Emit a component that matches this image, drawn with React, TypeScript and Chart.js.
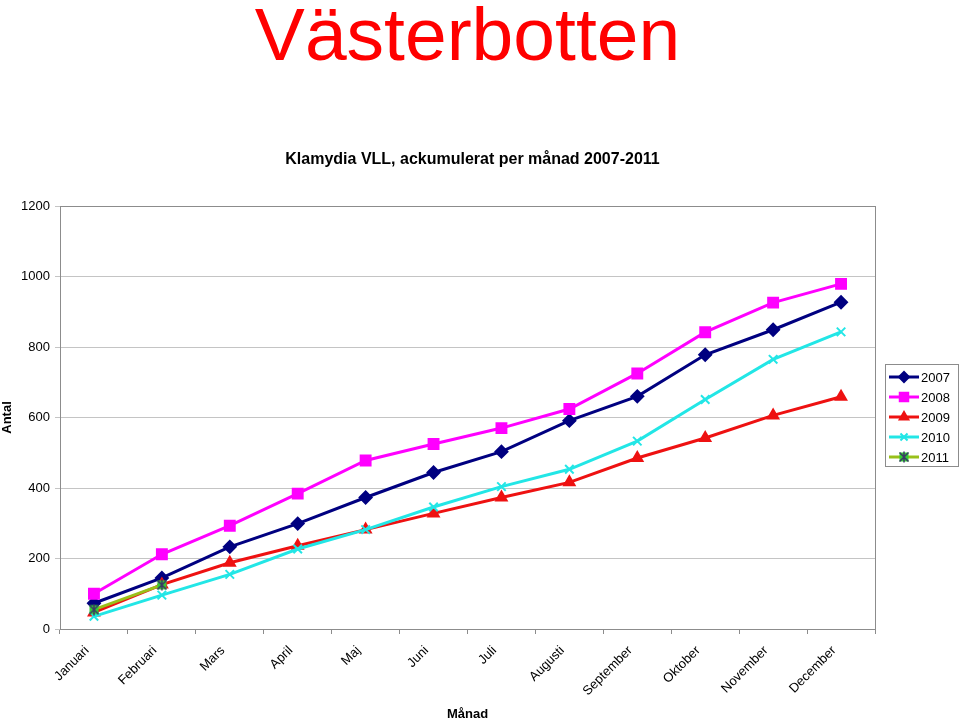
import React, { useEffect, useRef } from 'react';
import { Chart, registerables } from 'chart.js';
import { drawPoint } from 'chart.js/helpers';

Chart.register(...registerables);

const months = ['Januari', 'Februari', 'Mars', 'April', 'Maj', 'Juni', 'Juli', 'Augusti', 'September', 'Oktober', 'November', 'December'];
const years = ['2007', '2008', '2009', '2010', '2011'];
const v2007 = [73, 145, 233, 299, 373, 444, 503, 591, 660, 778, 849, 927];
const v2008 = [100, 212, 293, 384, 478, 525, 570, 624, 725, 842, 926, 979];
const v2009 = [47, 126, 188, 236, 282, 328, 373, 416, 485, 542, 606, 659];
const v2010 = [36, 96, 155, 227, 282, 346, 404, 453, 533, 651, 765, 843];
const v2011 = [55, 125];
const yMin = 0;
const yMax = 1200;
const yStep = 200;

const mainTitle = 'Västerbotten';
const subTitle = 'Klamydia VLL, ackumulerat per månad 2007-2011';
const yTitle = 'Antal';
const xTitle = 'Månad';

const FONT = '"Liberation Sans", Arial, sans-serif';

function makeStarMarker(): HTMLCanvasElement {
  const c = document.createElement('canvas');
  c.width = 12;
  c.height = 12;
  const g = c.getContext('2d')!;
  g.fillStyle = '#33CC33';
  g.fillRect(1.5, 1.5, 9, 9);
  g.strokeStyle = '#3A3A66';
  g.lineWidth = 1.5;
  g.beginPath();
  g.moveTo(1.5, 1.5); g.lineTo(10.5, 10.5);
  g.moveTo(10.5, 1.5); g.lineTo(1.5, 10.5);
  g.moveTo(6, 0.5); g.lineTo(6, 11.5);
  g.stroke();
  return c;
}

export default function App() {
  const ref = useRef<HTMLCanvasElement | null>(null);

  useEffect(() => {
    document.body.style.margin = '0';
    const star = makeStarMarker();
    const series = [
      { label: years[0], data: v2007, color: '#000080', style: 'rectRot', r: 6 },
      { label: years[1], data: v2008, color: '#FF00FF', style: 'rect', r: 7 },
      { label: years[2], data: v2009, color: '#EE1111', style: 'triangle', r: 6 },
      { label: years[3], data: v2010, color: '#22E6E6', style: 'crossRot', r: 6 },
      { label: years[4], data: v2011, color: '#99C01A', style: star as any, r: 6 },
    ];

    const decor = {
      id: 'decor',
      afterDraw(chart: any) {
        const { ctx, chartArea: a } = chart;
        ctx.save();
        // plot border
        ctx.strokeStyle = '#8C8C8C';
        ctx.lineWidth = 1;
        ctx.strokeRect(Math.round(a.left) + 0.5, Math.round(a.top) + 0.5, Math.round(a.right - a.left), Math.round(a.bottom - a.top));
        // titles
        const cx = (a.left + a.right) / 2;
        ctx.fillStyle = '#FF0000';
        ctx.textAlign = 'center';
        ctx.textBaseline = 'alphabetic';
        ctx.font = `75px ${FONT}`;
        ctx.fillText(mainTitle, cx, 60);
        ctx.fillStyle = '#000000';
        ctx.font = `bold 16px ${FONT}`;
        ctx.fillText(subTitle, cx + 5, 164);
        // legend
        const lx = a.right + 10;
        const ly = 364;
        const rowH = 20;
        ctx.strokeStyle = '#8C8C8C';
        ctx.lineWidth = 1;
        ctx.strokeRect(Math.round(lx) + 0.5, ly + 0.5, 73, 102);
        ctx.font = `13px ${FONT}`;
        ctx.textAlign = 'left';
        ctx.textBaseline = 'middle';
        series.forEach((s, i) => {
          const y = ly + 13 + i * rowH;
          ctx.strokeStyle = s.color;
          ctx.lineWidth = 3;
          ctx.beginPath();
          ctx.moveTo(lx + 4, y);
          ctx.lineTo(lx + 34, y);
          ctx.stroke();
          ctx.fillStyle = s.color;
          ctx.strokeStyle = s.color;
          ctx.lineWidth = 2;
          drawPoint(ctx, { pointStyle: s.style, radius: s.r - 1, rotation: 0, borderWidth: 2 } as any, lx + 19, y);
          ctx.fillStyle = '#000000';
          ctx.fillText(s.label, lx + 36, y + 1);
        });
        ctx.restore();
      },
    };

    const chart = new Chart(ref.current!, {
      type: 'line',
      data: {
        labels: months,
        datasets: series.map((s, i) => ({
          label: s.label,
          data: s.data,
          borderColor: s.color,
          backgroundColor: s.color,
          pointBackgroundColor: s.color,
          pointBorderColor: s.color,
          borderWidth: 3,
          pointStyle: s.style,
          pointRadius: s.r,
          pointBorderWidth: 2,
          tension: 0,
          fill: false,
          order: series.length - 1 - i,
        })),
      },
      options: {
        animation: false,
        responsive: true,
        maintainAspectRatio: false,
        layout: { padding: { top: 206, right: 85, left: 0, bottom: 0 } },
        plugins: {
          legend: { display: false },
          tooltip: { enabled: false },
          title: { display: false },
        },
        scales: {
          x: {
            type: 'category',
            offset: true,
            afterFit: (s: any) => { s.height = 90; },
            grid: { drawOnChartArea: false, offset: true, tickLength: 5, color: '#8C8C8C' },
            border: { color: '#8C8C8C' },
            ticks: {
              color: '#000',
              font: { family: FONT, size: 13 },
              minRotation: 45,
              maxRotation: 45,
              autoSkip: false,
              padding: 9,
              labelOffset: -7,
            },
            title: { display: true, text: xTitle, color: '#000', font: { family: FONT, size: 13, weight: 'bold' }, padding: { top: 0, bottom: -3 } },
          },
          y: {
            min: yMin,
            max: yMax,
            afterFit: (s: any) => { s.width = 60; },
            grid: { color: '#C4C4C4', tickLength: 5 },
            border: { color: '#8C8C8C' },
            ticks: {
              stepSize: yStep,
              color: '#000',
              font: { family: FONT, size: 13 },
              padding: 5,
              callback: (v: any) => String(v),
            },
            title: { display: true, text: yTitle, color: '#000', font: { family: FONT, size: 13, weight: 'bold' }, padding: { top: 0, bottom: 0 } },
          },
        },
      },
      plugins: [decor],
    });
    return () => chart.destroy();
  }, []);

  return (
    <div style={{ position: 'relative', width: 960, height: 719 }}>
      <canvas ref={ref} />
    </div>
  );
}
